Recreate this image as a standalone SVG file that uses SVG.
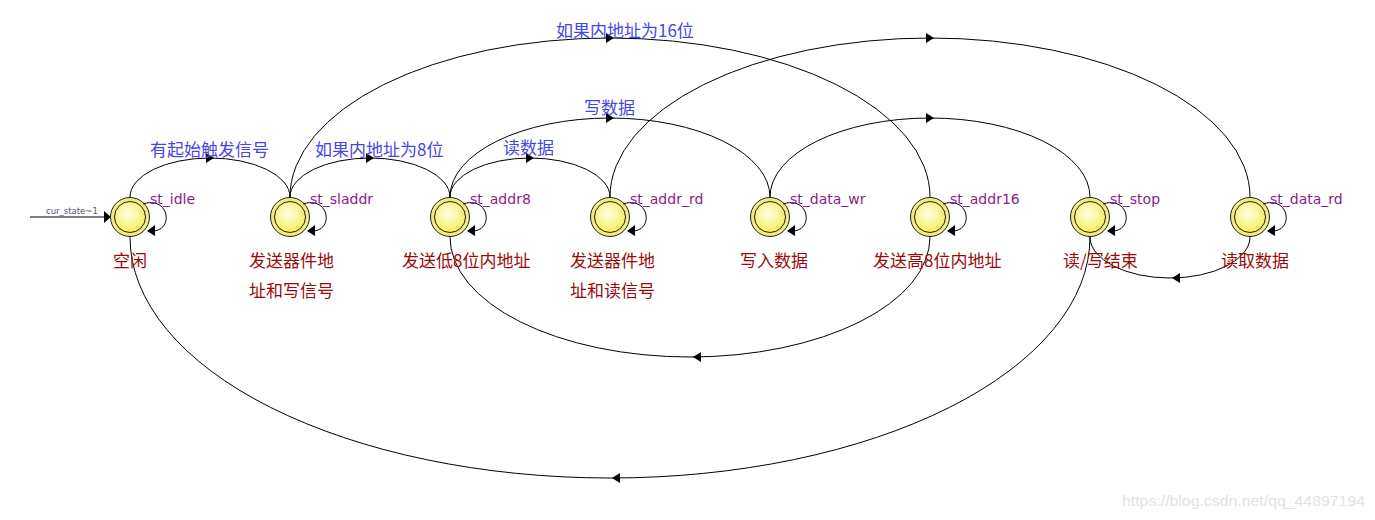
<svg xmlns="http://www.w3.org/2000/svg" xmlns:xlink="http://www.w3.org/1999/xlink" width="1375" height="520" viewBox="0 0 1375 520">
<style>
.edge{fill:none;stroke:#000;stroke-width:1}
.ah{fill:#000}
.nm{font-family:"DejaVu Sans",sans-serif;font-size:14px;fill:#8B1A8B}
.cn{font-family:"Noto Sans CJK SC",sans-serif;font-size:17px;fill:#9A0A0A}
.bl{font-family:"Noto Sans CJK SC",sans-serif;font-size:17px;fill:#4646E6}
.ring{fill:#F2EC7A;stroke:#222;stroke-width:1}
.core{fill:url(#g);stroke:#222;stroke-width:1}
</style>
<defs>
<radialGradient id="g" cx="0.45" cy="0.4" r="0.6">
<stop offset="0" stop-color="#FFFFE8"/>
<stop offset="1" stop-color="#F4EE5A"/>
</radialGradient>
<path id="ar" d="M4,0 L-4,-5 L-4,5 Z"/>
<path id="al" d="M-4,0 L4,-5 L4,5 Z"/>
<g id="st">
<circle class="ring" cx="0" cy="0" r="19.5"/>
<circle class="core" cx="0" cy="0" r="15.5"/>
<path class="edge" d="M13,-13 C40,-22 45,16 20,14"/>
<path class="ah" d="M17,14 L25,8 L25,19 Z"/>
</g>
</defs>
<rect width="1375" height="520" fill="#fff"/>

<g id="connectors">
<path class="edge" d="M30,217 L106,217"/>
<path class="ah" d="M111,217 L104,211 L104,223 Z"/>
<text x="46" y="214" style="font-family:'DejaVu Sans',sans-serif;font-size:8.5px;fill:#555570">cur_state~1</text>

<path class="edge" d="M130,197 A80,39 0 0 1 290,197"/>
<use href="#ar" xlink:href="#ar" x="210" y="158" class="ah"/>
<path class="edge" d="M290,197 A80,39 0 0 1 450,197"/>
<use href="#ar" xlink:href="#ar" x="370" y="158" class="ah"/>
<path class="edge" d="M450,197 A80,39 0 0 1 610,197"/>
<use href="#ar" xlink:href="#ar" x="530" y="158" class="ah"/>
<path class="edge" d="M290,197 A320,159 0 0 1 930,197"/>
<use href="#ar" xlink:href="#ar" x="610" y="38" class="ah"/>
<path class="edge" d="M450,197 A160,79 0 0 1 770,197"/>
<use href="#ar" xlink:href="#ar" x="610" y="118" class="ah"/>
<path class="edge" d="M610,197 A320,159 0 0 1 1250,197"/>
<use href="#ar" xlink:href="#ar" x="930" y="38" class="ah"/>
<path class="edge" d="M770,197 A160,79 0 0 1 1090,197"/>
<use href="#ar" xlink:href="#ar" x="930" y="118" class="ah"/>

<path class="edge" d="M450,237 A240,120 0 0 0 930,237"/>
<use href="#al" xlink:href="#al" x="697" y="357" class="ah"/>
<path class="edge" d="M1090,237 A80,41 0 0 0 1250,237"/>
<use href="#al" xlink:href="#al" x="1176" y="278" class="ah"/>
<path class="edge" d="M130,237 A480,241 0 0 0 1090,237"/>
<use href="#al" xlink:href="#al" x="616" y="478" class="ah"/>

<text class="bl" x="150" y="156">有起始触发信号</text>
<text class="bl" x="315" y="156">如果内地址为8位</text>
<text class="bl" x="503" y="154">读数据</text>
<text class="bl" x="556" y="37">如果内地址为16位</text>
<text class="bl" x="584" y="114">写数据</text>
</g>

<g id="st_idle"><use href="#st" xlink:href="#st" x="130" y="217"/><text class="nm" x="150" y="204">st_idle</text><text class="cn" x="113" y="267">空闲</text></g>
<g id="st_sladdr"><use href="#st" xlink:href="#st" x="290" y="217"/><text class="nm" x="310" y="204">st_sladdr</text><text class="cn" x="249" y="267">发送器件地</text><text class="cn" x="249" y="297">址和写信号</text></g>
<g id="st_addr8"><use href="#st" xlink:href="#st" x="450" y="217"/><text class="nm" x="470" y="204">st_addr8</text><text class="cn" x="402" y="267">发送低8位内地址</text></g>
<g id="st_addr_rd"><use href="#st" xlink:href="#st" x="610" y="217"/><text class="nm" x="630" y="204">st_addr_rd</text><text class="cn" x="570" y="267">发送器件地</text><text class="cn" x="570" y="297">址和读信号</text></g>
<g id="st_data_wr"><use href="#st" xlink:href="#st" x="770" y="217"/><text class="nm" x="790" y="204">st_data_wr</text><text class="cn" x="740" y="267">写入数据</text></g>
<g id="st_addr16"><use href="#st" xlink:href="#st" x="930" y="217"/><text class="nm" x="950" y="204">st_addr16</text><text class="cn" x="873" y="267">发送高8位内地址</text></g>
<g id="st_stop"><use href="#st" xlink:href="#st" x="1090" y="217"/><text class="nm" x="1110" y="204">st_stop</text><text class="cn" x="1063" y="267">读/写结束</text></g>
<g id="st_data_rd"><use href="#st" xlink:href="#st" x="1250" y="217"/><text class="nm" x="1270" y="204">st_data_rd</text><text class="cn" x="1221" y="267">读取数据</text></g>

<text x="1122" y="506" textLength="243" lengthAdjust="spacingAndGlyphs" style="font-family:'Liberation Sans',sans-serif;font-size:15px;fill:#E2E2E2">https://blog.csdn.net/qq_44897194</text>
</svg>
